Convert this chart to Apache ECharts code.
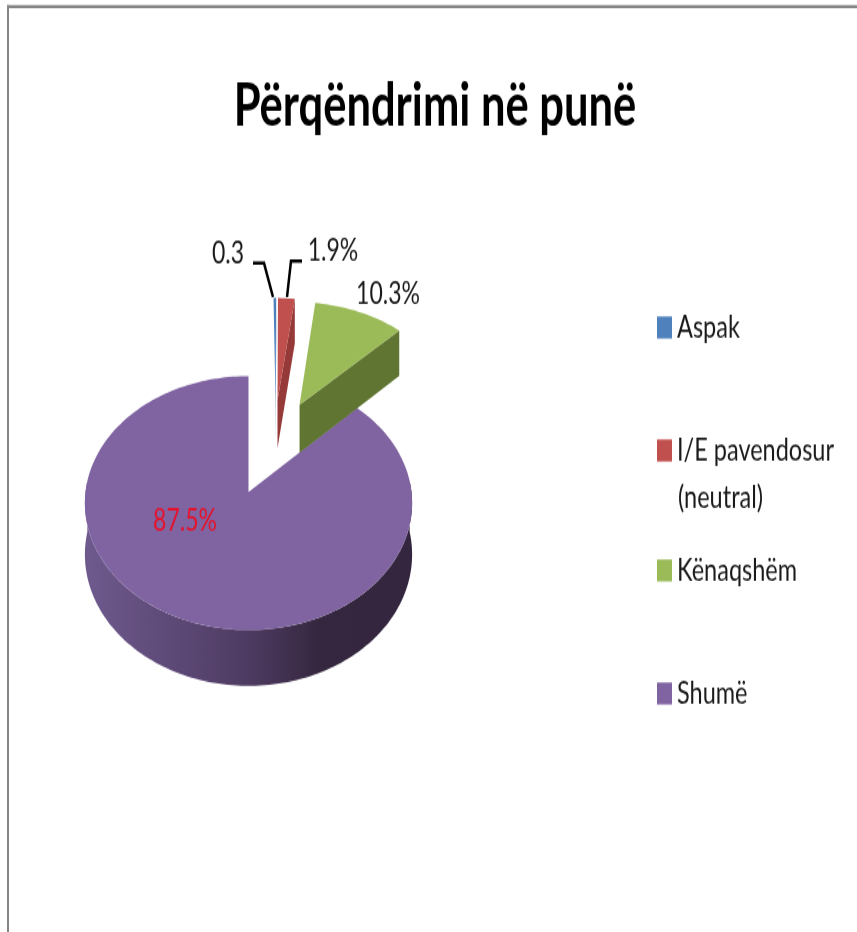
<!DOCTYPE html>
<html>
<head>
<meta charset="utf-8">
<style>
html,body{margin:0;padding:0;background:#fff;overflow:hidden;height:932px}
/* the original picture is a slide stretched upwards, so the whole chart is too */
#main{width:857px;height:690px;transform:scaleY(1.3507);transform-origin:0 0}
</style>
<script src="https://cdn.jsdelivr.net/npm/echarts@6/dist/echarts.min.js"></script>
</head>
<body>
<div id="main"></div>
<script>
// data
var chartTitle = 'Përqëndrimi në punë';
var categories = ['Aspak', 'I/E pavendosur (neutral)', 'Kënaqshëm', 'Shumë'];
var values = [0.3, 1.9, 10.3, 87.5];
var valueLabels = ['0.3', '1.9%', '10.3%', '87.5%'];

var colors = ['#4f81bd', '#c0504d', '#9bbb59', '#8064a2'];
var sideColors = ['#3a6091', '#953a38', '#5f7531', '#33263e'];
var fontName = 'Lato, "Open Sans", sans-serif';

// reference pixels to chart pixels, see the css transform
var stretch = 932 / 690;
function sy(y) { return y / stretch; }

// pie projection, the original is a tilted 3d pie with perspective
var pie = {cx: 248.5, cy: sy(492), rx: 163, ry: sy(126), k: 0.0866, depth: sy(51)};
// how far each slice is pulled out, in pie radii
var explode = [[0.177, -0.777], [0.19, -0.777], [0.333, -0.734], [0, 0]];
// label places and leader lines, in reference pixels
var labelPos = [[228, 253], [333, 250], [388, 294], [185, 521]];
var leaders = [[[253, 263], [264, 263], [273, 297]], [[302, 261], [291, 261], [287, 297]], null, null];

var total = values.reduce(function (a, b) { return a + b; }, 0);
var startAngles = [];
values.reduce(function (sum, v, i) { startAngles[i] = sum / total * 360; return sum + v; }, 0);

function project(u, v) {
    var s = 1 / (1 - pie.k * v);
    return {x: pie.cx + pie.rx * u * s, y: pie.cy + pie.ry * v * s, s: s};
}
function rimPoint(i, deg) {
    var a = deg * Math.PI / 180;
    return project(explode[i][0] + Math.sin(a), explode[i][1] - Math.cos(a));
}
function apexPoint(i) {
    return project(explode[i][0], explode[i][1]);
}
function drop(p) {
    return [p.x, p.y + pie.depth * p.s];
}
function rimPoints(i, a0, a1) {
    var pts = [];
    var n = Math.max(2, Math.ceil((a1 - a0) / 1.5));
    for (var j = 0; j <= n; j++) pts.push(rimPoint(i, a0 + (a1 - a0) * j / n));
    return pts;
}

function sliceItem(i) {
    return function (params, api) {
        var a0 = startAngles[i];
        var a1 = a0 + api.value(0) / total * 360;
        var children = [];
        var side = sideColors[i];
        // purple wall has the shading of the original
        if (i === 3) {
            side = new echarts.graphic.LinearGradient(0, 0, 1, 0, [
                {offset: 0, color: '#6f5a8e'}, {offset: 0.5, color: '#4e3b62'},
                {offset: 0.72, color: '#35273f'}, {offset: 1, color: '#33263e'}
            ]);
        }
        var wa0 = Math.max(a0, 85), wa1 = Math.min(a1, 275);
        if (wa1 > wa0) {
            var wall = rimPoints(i, wa0, wa1);
            var wallPts = wall.map(function (p) { return [p.x, p.y]; })
                .concat(wall.slice().reverse().map(drop));
            children.push({type: 'polygon', shape: {points: wallPts}, style: {fill: side}});
        }
        var apex = apexPoint(i);
        // inner wall on the right side of the small slices
        if (a1 < 180) {
            var end = rimPoint(i, a1);
            children.push({
                type: 'polygon',
                shape: {points: [[apex.x, apex.y], [end.x, end.y], drop(end), drop(apex)]},
                style: {fill: side}
            });
        }
        var top = [[apex.x, apex.y]].concat(rimPoints(i, a0, a1).map(function (p) { return [p.x, p.y]; }));
        children.push({type: 'polygon', shape: {points: top}, style: {fill: colors[i]}});
        if (leaders[i]) {
            children.push({
                type: 'polyline', z2: 10,
                shape: {points: leaders[i].map(function (p) { return [p[0], sy(p[1])]; })},
                style: {stroke: '#000', lineWidth: 2.5, fill: 'none'}
            });
        }
        children.push({
            type: 'text', x: labelPos[i][0], y: sy(labelPos[i][1]), z2: 20,
            style: {
                text: valueLabels[i], fill: i === 3 ? '#e6122b' : '#1a1a1a',
                font: '23px ' + fontName, align: 'center', verticalAlign: 'middle'
            }
        });
        return {type: 'group', children: children};
    };
}

var myChart = echarts.init(document.getElementById('main'));

// back slices first, green lies over the purple
var drawOrder = [3, 0, 1, 2];
var series = drawOrder.map(function (i) {
    return {
        name: categories[i],
        type: 'custom',
        coordinateSystem: 'none',
        silent: true,
        itemStyle: {color: colors[i]},
        data: [[values[i]]],
        renderItem: sliceItem(i)
    };
});

var legendTop = [316, 439, 559, 682];
var legends = categories.map(function (name, i) {
    return {
        left: 652, top: sy(legendTop[i]) - 8.5,
        padding: 5,
        icon: 'rect', itemWidth: 15, itemHeight: sy(22), itemGap: 6,
        selectedMode: false,
        data: [{name: name, itemStyle: {color: colors[i]}}],
        formatter: function (n) { return n.split(' (')[0]; },
        textStyle: {fontFamily: fontName, fontSize: 23.5, color: '#1a1a1a'}
    };
});

var option = {
    backgroundColor: '#fff',
    animation: false,
    title: {
        text: chartTitle, left: 435, top: sy(106), textAlign: 'center', textVerticalAlign: 'middle', padding: 0,
        textStyle: {fontFamily: fontName, fontWeight: 'bold', fontSize: 43.5, color: '#000'}
    },
    legend: legends,
    series: series,
    graphic: [
        // frame, only top and left are in the picture
        {type: 'rect', shape: {x: 7, y: sy(5), width: 850, height: sy(3)}, style: {fill: '#868686'}},
        {type: 'rect', shape: {x: 7, y: sy(5), width: 2, height: 700}, style: {fill: '#868686'}},
        {type: 'text', x: 678, y: sy(497), style: {text: '(neutral)', fill: '#1a1a1a', font: '23.5px ' + fontName, align: 'left', verticalAlign: 'middle'}}
    ]
};

myChart.setOption(option);
</script>
</body>
</html>
